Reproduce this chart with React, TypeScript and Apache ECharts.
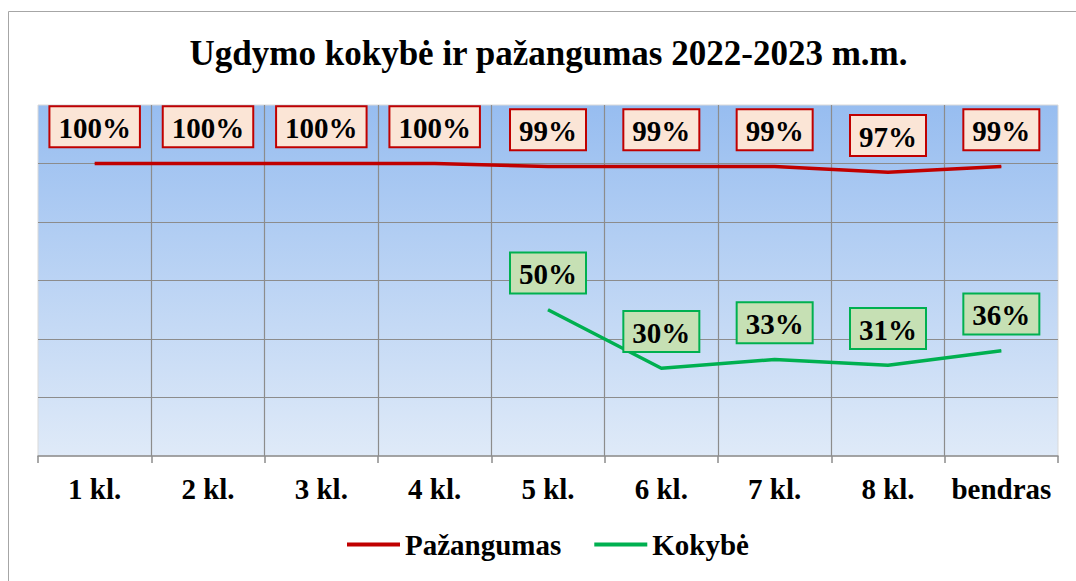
import React, { useEffect, useRef } from "react";
import * as echarts from "echarts";

const categories = ["1 kl.", "2 kl.", "3 kl.", "4 kl.", "5 kl.", "6 kl.", "7 kl.", "8 kl.", "bendras"];
const pazangumas = [100, 100, 100, 100, 99, 99, 99, 97, 99];
const kokybe: (number | null)[] = [null, null, null, null, 50, 30, 33, 31, 36];
const titleText = "Ugdymo kokybė ir pažangumas 2022-2023 m.m.";

const FONT = '"Times New Roman", "Liberation Serif", serif';

export default function App() {
  const ref = useRef<HTMLDivElement>(null);
  useEffect(() => {
    if (!ref.current) return;
    const chart = echarts.init(ref.current, undefined, { renderer: "svg" });
    const labelBase = {
      show: true,
      position: "top" as const,
      distance: 17,
      formatter: "{c}%",
      color: "#000",
      fontFamily: FONT,
      fontWeight: "bold" as const,
      fontSize: 29,
      borderWidth: 2,
      padding: [6, 8, 4, 8],
    };
    chart.setOption({
      animation: false,
      backgroundColor: "#ffffff",
      graphic: [
        {
          type: "rect",
          shape: { x: 8.5, y: 11.5, width: 1200, height: 700 },
          style: { fill: "none", stroke: "#a6a6a6", lineWidth: 1 },
          silent: true,
          z: -1,
        },
        {
          type: "text",
          x: 548.5,
          y: 53,
          style: {
            text: titleText,
            textAlign: "center",
            textVerticalAlign: "middle",
            fontFamily: FONT,
            fontWeight: "bold",
            fontSize: 35,
            fill: "#000",
          },
        },
      ],
      legend: {
        left: 347,
        top: 530,
        padding: 0,
        icon: "rect",
        itemWidth: 53,
        itemHeight: 4,
        itemGap: 33,
        textStyle: { fontFamily: FONT, fontWeight: "bold", fontSize: 29, color: "#000" },
        data: ["Pažangumas", "Kokybė"],
      },
      grid: {
        left: 38,
        top: 105,
        width: 1020,
        height: 351,
        show: true,
        borderColor: "#d9d9d9",
        borderWidth: 1,
        backgroundColor: {
          type: "linear",
          x: 0,
          y: 0,
          x2: 0,
          y2: 1,
          colorStops: [
            { offset: 0, color: "#97bdf0" },
            { offset: 1, color: "#dfeaf8" },
          ],
        },
      },
      xAxis: {
        type: "category",
        data: categories,
        boundaryGap: true,
        axisLine: { show: true, lineStyle: { color: "#8c8c8c", width: 1.5 } },
        axisTick: { show: true, interval: 0, length: 7, lineStyle: { color: "#8c8c8c", width: 1.5 } },
        axisLabel: {
          interval: 0,
          margin: 18,
          color: "#000",
          fontFamily: FONT,
          fontWeight: "bold",
          fontSize: 29,
        },
        splitLine: {
          show: true,
          interval: 0,
          showMinLine: false,
          showMaxLine: false,
          lineStyle: { color: "#8c8c8c", width: 1.2 },
        },
      },
      yAxis: {
        type: "value",
        min: 0,
        max: 120,
        interval: 20,
        axisLine: { show: false },
        axisTick: { show: false },
        axisLabel: { show: false },
        splitLine: {
          show: true,
          showMinLine: false,
          showMaxLine: false,
          lineStyle: { color: "#8c8c8c", width: 1.2 },
        },
      },
      series: [
        {
          name: "Pažangumas",
          type: "line",
          data: pazangumas,
          symbol: "circle",
          symbolSize: 0.5,
          showSymbol: true,
          lineStyle: { color: "#c00000", width: 3.5 },
          itemStyle: { color: "#c00000" },
          label: { ...labelBase, backgroundColor: "#fbe5d6", borderColor: "#c00000" },
        },
        {
          name: "Kokybė",
          type: "line",
          data: kokybe,
          symbol: "circle",
          symbolSize: 0.5,
          showSymbol: true,
          lineStyle: { color: "#00b050", width: 3.5 },
          itemStyle: { color: "#00b050" },
          label: { ...labelBase, backgroundColor: "#c6e0b4", borderColor: "#00b050" },
        },
      ],
    });
    return () => chart.dispose();
  }, []);
  return (
    <div
      ref={ref}
      style={{ position: "absolute", left: 0, top: 0, width: 1076, height: 581 }}
    />
  );
}
